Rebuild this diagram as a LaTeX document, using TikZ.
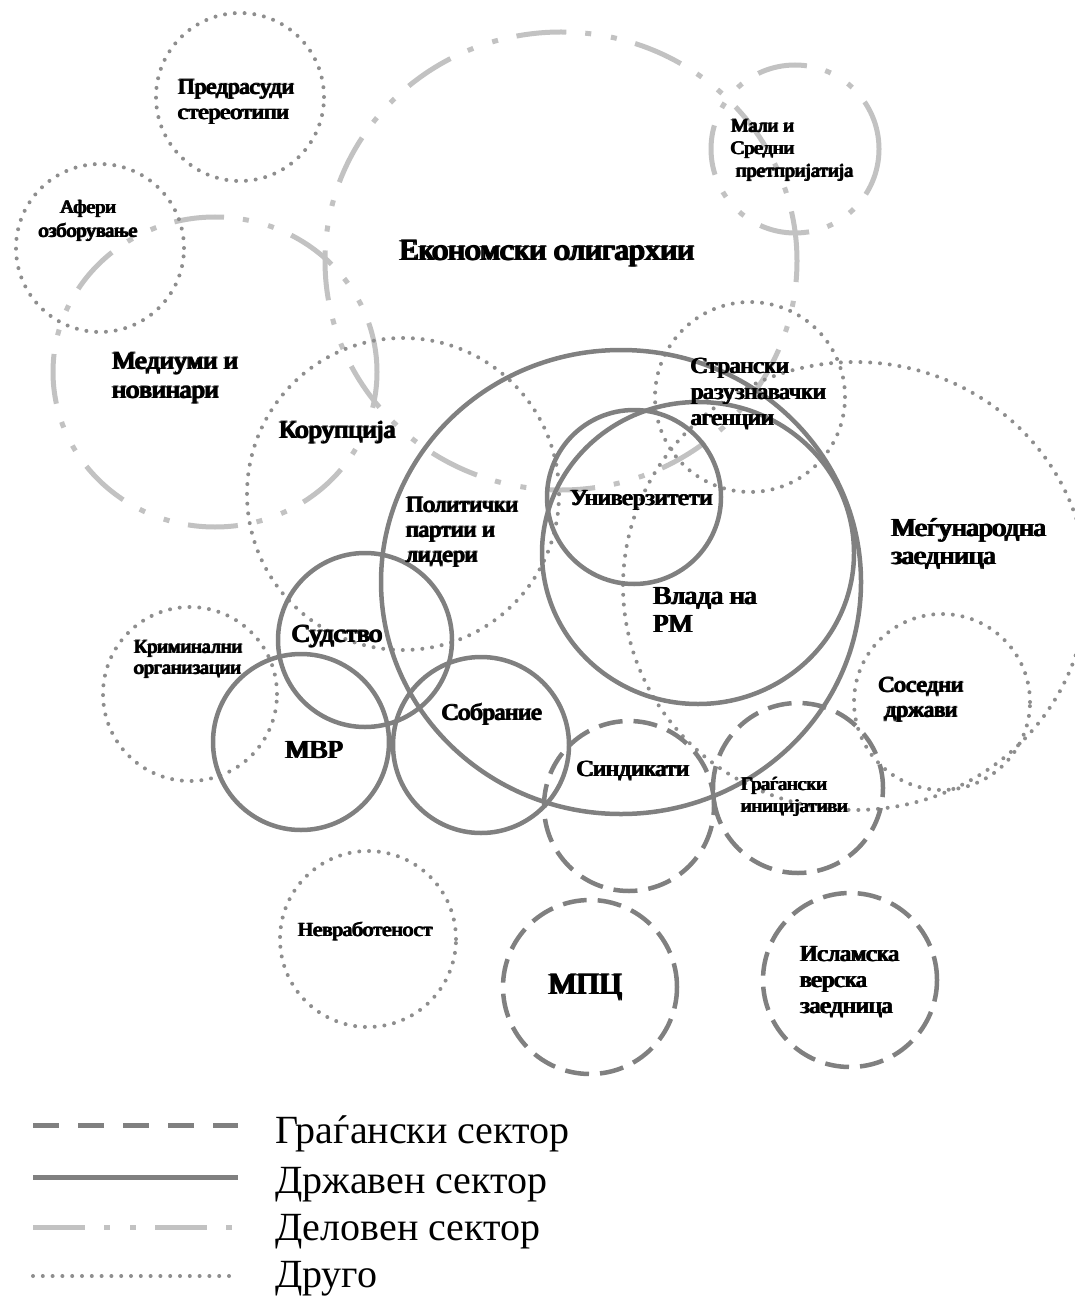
\documentclass[tikz,border=0pt]{standalone}
\usepackage{fontspec}
\setmainfont{Liberation Serif}
\newfontfamily\lblfont{Liberation Serif}[FakeStretch=1.05]
\newcommand\fsz[2]{\fontsize{#1}{#2}\selectfont}
\newcommand\pb[1]{\leavevmode\rlap{#1}\kern0.035em\rlap{#1}\kern0.035em\rlap{\raisebox{0.02em}{#1}}\kern0.01em #1}
\definecolor{cgray}{HTML}{808080}
\definecolor{cdot}{HTML}{8E8E8E}
\definecolor{clight}{HTML}{C2C2C2}
\begin{document}
\begin{tikzpicture}[x=1pt,y=-1pt,
  solidc/.style={draw=cgray, line width=4.5pt},
  dashc/.style={draw=cgray, line width=4.5pt, dash pattern=on 24pt off 11pt},
  dashdotc/.style={draw=clight, line width=5pt, dash pattern=on 50pt off 19pt on 6pt off 20pt on 6pt off 19pt},
  dotc/.style={draw=cdot, line width=4pt, line cap=round, dash pattern=on 0pt off 9.8pt},
  lbl/.style={inner sep=0pt, anchor=north west, align=left},
  leg/.style={inner sep=0pt, anchor=base west, font=\fsz{40}{48}}
]
\useasboundingbox (0,0) rectangle (1075,1297);
\clip (0,0) rectangle (1075,1297);

% business sector (dash-dot)
\draw[dashdotc] (561,261) ellipse [x radius=236pt, y radius=229pt];
\draw[dashdotc] (795,149) circle [radius=84pt];
\draw[dashdotc] (215,372) ellipse [x radius=162pt, y radius=155pt];

% other (dotted)
\draw[dotc] (240,97) circle [radius=84pt];
\draw[dotc] (100,248) circle [radius=84pt];
\draw[dotc] (403,494) circle [radius=156pt];
\draw[dotc] (750,397) circle [radius=95pt];
\draw[dotc] (855,586) ellipse [x radius=232pt, y radius=224pt];
\draw[dotc] (190,694) circle [radius=87pt];
\draw[dotc] (942,702) circle [radius=88pt];
\draw[dotc] (368,939) circle [radius=88pt];

% civil sector (dashed)
\draw[dashc] (629,806) circle [radius=85pt];
\draw[dashc] (798,788) circle [radius=85pt];
\draw[dashc] (590,987) circle [radius=87pt];
\draw[dashc] (850,980) circle [radius=87pt];

% state sector (solid)
\draw[solidc] (621,582) ellipse [x radius=240pt, y radius=232pt];
\draw[solidc] (634,497) circle [radius=87pt];
\draw[solidc] (698,553) ellipse [x radius=156pt, y radius=151pt];
\draw[solidc] (365,640) circle [radius=87pt];
\draw[solidc] (301,742) circle [radius=88pt];
\draw[solidc] (481,745) circle [radius=88pt];

% labels
\node[lbl, font=\lblfont\fsz{22}{25.5}] (t1) at (177,79) {\pb{Предрасуди}\\\pb{стереотипи}};
\node[lbl, align=center, anchor=north, font=\lblfont\fsz{19}{23.5}] (t2) at (88,200) {\pb{Афери}\\\pb{озборување}};
\node[lbl, font=\lblfont\fsz{30}{34}] (t3) at (398,240) {\pb{Економски олигархии}};
\node[lbl, font=\lblfont\fsz{19}{22.5}] (t4) at (730,119) {\pb{Мали и}\\\pb{Средни}\\\hspace*{5pt}\pb{претпријатија}};
\node[lbl, font=\lblfont\fsz{25}{29}] (t5) at (111,352) {\pb{Медиуми и}\\\pb{новинари}};
\node[lbl, font=\lblfont\fsz{25}{29}] (t6) at (278,421) {\pb{Корупција}};
\node[lbl, font=\lblfont\fsz{22.5}{25}] (t7) at (405,497) {\pb{Политички}\\\pb{партии и}\\\pb{лидери}};
\node[lbl, font=\lblfont\fsz{23}{26}] (t8) at (690,358) {\pb{Странски}\\\pb{разузнавачки}\\\pb{агенции}};
\node[lbl, font=\lblfont\fsz{23}{26}] (t9) at (569,490) {\pb{Универзитети}};
\node[lbl, font=\lblfont\fsz{26}{28}] (t10) at (890,518) {\pb{Меѓународна}\\\pb{заедница}};
\node[lbl, font=\lblfont\fsz{26}{28}] (t11) at (652,587) {\pb{Влада на}\\\pb{РМ}};
\node[lbl, font=\lblfont\fsz{25}{28}] (t12) at (291,625) {\pb{Судство}};
\node[lbl, font=\lblfont\fsz{19}{21}] (t13) at (133,640) {\pb{Криминални}\\\pb{организации}};
\node[lbl, font=\lblfont\fsz{26}{28}] (t14) at (284,741) {\pb{МВР}};
\node[lbl, font=\lblfont\fsz{23}{26}] (t15) at (441,703) {\pb{Собрание}};
\node[lbl, font=\lblfont\fsz{23}{26}] (t16) at (576,761) {\pb{Синдикати}};
\node[lbl, font=\lblfont\fsz{19}{22}] (t17) at (740,777) {\pb{Граѓански}\\\pb{иницијативи}};
\node[lbl, align=center, anchor=north, font=\lblfont\fsz{22}{25}] (t18) at (921,677) {\pb{Соседни}\\\pb{држави}};
\node[lbl, font=\lblfont\fsz{20}{24}] (t19) at (297,922) {\pb{Невработеност}};
\node[lbl, font=\lblfont\fsz{30}{34}] (t20) at (547,974) {\pb{МПЦ}};
\node[lbl, font=\lblfont\fsz{23}{26}] (t21) at (799,946) {\pb{Исламска}\\\pb{верска}\\\pb{заедница}};

% legend
\coordinate (l1a) at (33,1125); \coordinate (l1b) at (238,1125);
\coordinate (l2a) at (33,1177); \coordinate (l2b) at (238,1177);
\coordinate (l3a) at (33,1227); \coordinate (l3b) at (238,1227);
\coordinate (l4a) at (33,1276); \coordinate (l4b) at (238,1276);
\draw[dashc, line width=5pt, dash pattern=on 26pt off 19pt] (l1a) -- (l1b);
\draw[solidc, line width=5pt] (l2a) -- (l2b);
\draw[dashdotc, dash pattern=on 52pt off 19pt on 6pt off 20pt on 6pt off 19pt] (l3a) -- (l3b);
\draw[dotc] (l4a) -- (l4b);
\node[leg] (g1) at (275,1143) {Граѓански сектор};
\node[leg] (g2) at (275,1193) {Државен сектор};
\node[leg] (g3) at (275,1240) {Деловен сектор};
\node[leg] (g4) at (275,1287) {Друго};
\end{tikzpicture}
\end{document}
